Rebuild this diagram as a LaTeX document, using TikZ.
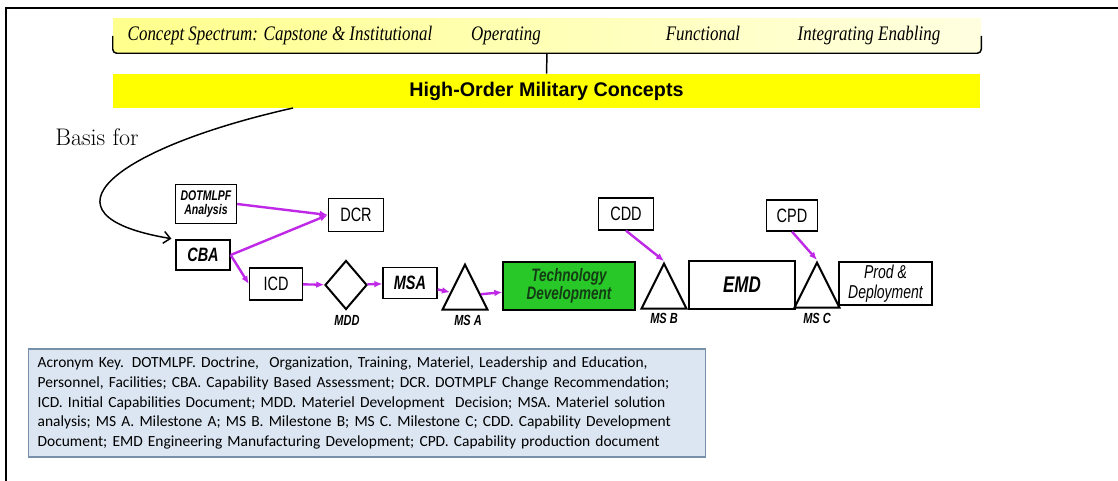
\documentclass[tikz,border=0pt]{standalone}
\usepackage{fontspec}
\usepackage{tikz}
\usetikzlibrary{shapes.geometric,arrows.meta}
\newfontfamily\sansn[FakeStretch=0.75]{Liberation Sans}
\newfontfamily\sansw{Liberation Sans}
\newfontfamily\serifn[FakeStretch=0.82]{Liberation Serif}
\newfontfamily\keyfont{Carlito}
\definecolor{arrowmag}{RGB}{190,40,230}
\definecolor{baryellow}{RGB}{255,255,0}
\definecolor{techgreen}{RGB}{40,200,40}
\definecolor{techtext}{RGB}{20,60,20}
\definecolor{keyfill}{RGB}{220,230,242}
\definecolor{keyline}{RGB}{120,145,170}

\begin{document}
\begin{tikzpicture}[x=0.75pt,y=-0.75pt,
  box/.style 2 args={draw,line width=1pt,inner sep=0pt,minimum width=#1*0.75pt,minimum height=#2*0.75pt,font=\sansn\fontsize{14.5}{15}\selectfont},
  bi/.style={font=\sansn\bfseries\itshape\fontsize{#1}{#1}\selectfont},
  ms/.style={isosceles triangle,isosceles triangle stretches,shape border rotate=90,draw,line width=1.5pt,inner sep=0pt,minimum width=45*0.75pt,minimum height=45*0.75pt,anchor=apex},
  lab/.style={inner sep=0pt,font=\sansn\bfseries\itshape\fontsize{11}{11}\selectfont},
  spec/.style={inner sep=0pt,anchor=base,font=\serifn\itshape\fontsize{15.5}{16}\selectfont},
  mag/.style={draw=arrowmag,line width=1.8pt,-{Latex[length=6pt,width=5pt]}}]
\useasboundingbox (0,0) rectangle (1118,481);
\draw[line width=1.5pt] (5,8) -- (1118,8);
\draw[line width=1.5pt] (6,8) -- (6,481);

\node[inner sep=0pt,left color=yellow!45,right color=yellow!12,minimum width=868*0.75pt,minimum height=34*0.75pt] (spectrum) at (547,36) {};
\node[inner sep=0pt,fill=baryellow,minimum width=867*0.75pt,minimum height=34*0.75pt,font=\sansw\bfseries\fontsize{14.8}{15}\selectfont] (hoc) at (546.5,91) {High-Order Military Concepts};
\draw[line width=1.1pt,rounded corners=3pt] (spectrum.west) -- (spectrum.south west) -- (spectrum.south east) -- (spectrum.east);
\draw[line width=1.1pt] (spectrum.south) -- (hoc.north);
\node[spec] (capstone) at (280,41) {Concept Spectrum: Capstone \& Institutional};
\node[spec] (operating) at (506,41) {Operating};
\node[spec] (functional) at (703,41) {Functional};
\node[spec] (integrating) at (869,41) {Integrating Enabling};

\node[font=\fontsize{18}{18}\selectfont] (basis) at (97,137) {Basis for};

\node[box={61}{39},align=center,bi=10.5] (dotm) at (206,204) {DOTMLPF\\Analysis};
\node[box={55}{33}] (dcr) at (356,215) {DCR};
\node[box={54}{30},bi=14.5] (cba) at (203,255) {CBA};
\node[box={53}{32}] (icd) at (276,284) {ICD};
\node[diamond,draw,line width=1.5pt,inner sep=0pt,minimum width=42*0.75pt,minimum height=49*0.75pt] (mdd) at (346,285) {};
\node[box={54}{31},bi=14.5] (msa) at (410,283) {MSA};
\node[ms] (msA) at (465,262) {};
\node[box={132}{48},fill=techgreen,text=techtext,align=center,bi=13.5] (tech) at (569,286) {Technology\\Development};
\node[ms] (msB) at (664,261) {};
\node[box={106}{48},bi=17] (emd) at (742,285) {EMD};
\node[ms] (msC) at (817,260) {};
\node[box={93}{43},align=center,font=\sansn\itshape\fontsize{14}{15}\selectfont] (prod) at (885.5,283.5) {Prod \&\\Deployment};
\node[box={55}{32}] (cdd) at (626,214) {CDD};
\node[box={51}{31}] (cpd) at (792,215.5) {CPD};

\node[lab] (mddlab) at (347,320) {MDD};
\node[lab] (msAlab) at (468,320) {MS A};
\node[lab] (msBlab) at (664,318) {MS B};
\node[lab] (msClab) at (817,318) {MS C};

\coordinate (bstart) at (293,108);
\draw[line width=1.1pt,shorten >=3pt,-{Straight Barb[length=5pt,width=9pt]}] (bstart) .. controls (115,148) and (30,215) .. (cba.north west);

\draw[mag] (dotm.east) -- (dcr.west);
\draw[mag] (cba.east) -- (dcr.west);
\draw[mag] (cba.east) -- (icd.west);
\draw[mag] (icd) -- (mdd);
\draw[mag] (mdd) -- (msa);
\draw[mag] (msa) -- (msA);
\draw[mag] (msA) -- (tech);
\draw[mag] (cdd.south) -- (msB.apex);
\draw[mag] (cpd.south) -- (msC.apex);

\node[draw=keyline,line width=1.2pt,fill=keyfill,minimum height=108*0.75pt,inner xsep=7pt,text width=494pt,align=left,font=\keyfont\fontsize{11.6}{14.8}\selectfont] (key) at (367,403) {Acronym Key. DOTMLPF. Doctrine, \ Organization, Training, Materiel, Leadership and Education,\\
Personnel, Facilities; CBA. Capability Based Assessment; DCR. DOTMPLF Change Recommendation;\\
ICD. Initial Capabilities Document; MDD. Materiel Development \ Decision; MSA. Materiel solution\\
analysis; MS A. Milestone A; MS B. Milestone B; MS C. Milestone C; CDD. Capability Development\\
Document; EMD Engineering Manufacturing Development; CPD. Capability production document};
\end{tikzpicture}
\end{document}
